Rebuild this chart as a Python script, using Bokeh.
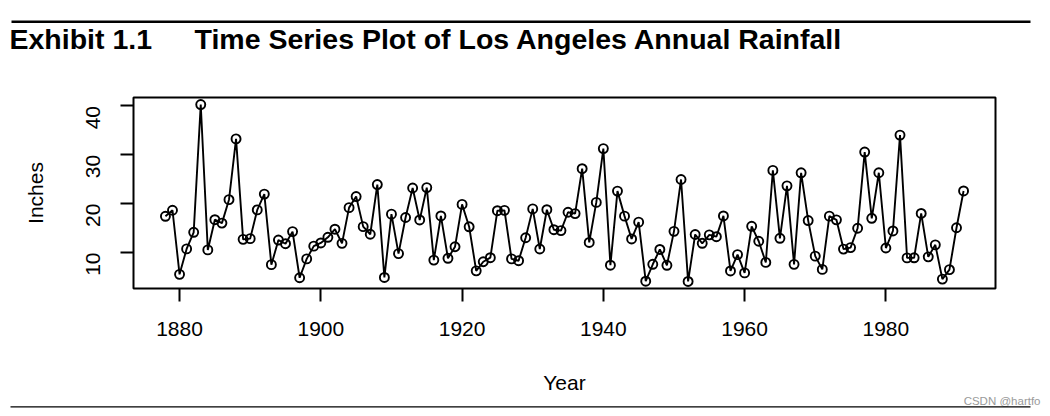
import math
from bokeh.plotting import figure
from bokeh.layouts import column
from bokeh.models import ColumnDataSource, Label, BoxAnnotation, Range1d, FixedTicker
from bokeh.embed import file_html
from bokeh.resources import INLINE

# ---- data (Los Angeles annual rainfall, inches) ----
years = list(range(1878, 1992))
rainfall = [17.41, 18.65, 5.53, 10.74, 14.14, 40.29, 10.53, 16.72, 16.02, 20.82, 33.26,
            12.69, 12.84, 18.72, 21.96, 7.51, 12.55, 11.80, 14.28, 4.83, 8.69, 11.30, 11.96,
            13.12, 14.77, 11.88, 19.19, 21.46, 15.30, 13.74, 23.92, 4.89, 17.85, 9.78, 17.17,
            23.21, 16.67, 23.29, 8.45, 17.49, 8.82, 11.18, 19.85, 15.27, 6.25, 8.11, 8.94,
            18.56, 18.63, 8.69, 8.32, 13.02, 18.93, 10.72, 18.76, 14.67, 14.49, 18.24, 17.97,
            27.16, 12.06, 20.26, 31.28, 7.40, 22.57, 17.45, 12.78, 16.22, 4.13, 7.59, 10.63,
            7.38, 14.33, 24.95, 4.08, 13.69, 11.89, 13.62, 13.24, 17.49, 6.23, 9.57, 5.83,
            15.37, 12.31, 7.98, 26.81, 12.91, 23.65, 7.58, 26.32, 16.54, 9.26, 6.54, 17.45,
            16.69, 10.70, 11.01, 14.97, 30.57, 17.00, 26.33, 10.92, 14.41, 34.04, 8.90, 8.92,
            18.00, 9.11, 11.57, 4.56, 6.49, 15.07, 22.60]
x_ticks = [1880, 1900, 1920, 1940, 1960, 1980]
y_ticks = [10, 20, 30, 40]
exhibit = "Exhibit 1.1"
title = "Time Series Plot of Los Angeles Annual Rainfall"
x_title = "Year"
y_title = "Inches"
watermark = "CSDN @hartfo"

FONT = "Liberation Sans"
W = 1050
H_HEAD, H_MAIN, H_FOOT = 60, 336, 20
BL, BR, BT, BB = 133, 55, 37, 107


def blank(h):
    f = figure(width=W, height=h, output_backend="svg", toolbar_location=None,
               x_range=Range1d(0, 1), y_range=Range1d(0, 1),
               x_axis_type=None, y_axis_type=None,
               min_border_left=0, min_border_right=0, min_border_top=0, min_border_bottom=0,
               background_fill_color="white", border_fill_color="white")
    f.outline_line_color = None
    f.grid.visible = False
    f.frame_align = False
    return f


def hrule(f, h, x0, x1, y0, y1):
    # y0/y1: pixels from top of this figure
    f.add_layout(BoxAnnotation(left=x0, right=x1, top=h - y0, bottom=h - y1,
                               left_units="screen", right_units="screen",
                               top_units="screen", bottom_units="screen",
                               fill_color="black", fill_alpha=1, line_color=None))


def text(f, h, x, baseline_from_top, s, size, **kw):
    # Label's alphabetic anchor lands ~0.32em above the drawn baseline; compensate
    y = h - (baseline_from_top - 0.32 * size)
    f.add_layout(Label(x=x, y=y, x_units="screen", y_units="screen", text=s,
                       text_font=FONT, text_font_size=f"{size}px",
                       text_baseline="alphabetic", **kw))


# ---- header: rule + title ----
head = blank(H_HEAD)
hrule(head, H_HEAD, 11, 1030, 20, 22.5)
text(head, H_HEAD, 9, 48, exhibit, 28.5, text_font_style="bold", text_color="black",
     text_align="left")
text(head, H_HEAD, 194, 48, title, 28.5, text_font_style="bold", text_color="black",
     text_align="left")


# ---- main plot ----
def pad(lo, hi):
    d = (hi - lo) * 0.04
    return lo - d, hi + d


xr = pad(min(years), max(years))
yr = pad(min(rainfall), max(rainfall))

p = figure(width=W, height=H_MAIN, output_backend="svg", toolbar_location=None,
           x_range=Range1d(*xr), y_range=Range1d(*yr),
           min_border_left=BL, min_border_right=BR, min_border_top=BT, min_border_bottom=BB,
           background_fill_color="white", border_fill_color="white")
p.frame_align = False
p.grid.visible = False
p.outline_line_color = "black"
p.outline_line_width = 2

for ax in (p.xaxis[0], p.yaxis[0]):
    ax.axis_line_color = None
    ax.major_tick_in = 0
    ax.major_tick_out = 13
    ax.major_tick_line_width = 2
    ax.major_tick_line_color = "black"
    ax.minor_tick_line_color = None
    ax.major_label_text_font = FONT
    ax.major_label_text_font_size = "21px"
    ax.major_label_text_color = "black"
    ax.axis_label_text_font = FONT
    ax.axis_label_text_font_size = "21px"
    ax.axis_label_text_font_style = "normal"
    ax.axis_label_text_color = "black"

p.xaxis.ticker = FixedTicker(ticks=x_ticks)
p.yaxis.ticker = FixedTicker(ticks=y_ticks)
p.xaxis.axis_label = x_title
p.yaxis.axis_label = y_title
p.xaxis.major_label_standoff = 20
p.xaxis.axis_label_standoff = 32
p.yaxis.major_label_standoff = 27
p.yaxis.major_label_orientation = math.pi / 2
p.yaxis.axis_label_standoff = 30

src = ColumnDataSource(dict(year=years, rain=rainfall))
p.line("year", "rain", source=src, line_color="black", line_width=1.9)
p.scatter("year", "rain", source=src, marker="circle", size=9,
          fill_color=None, line_color="black", line_width=1.9)

# ---- footer: rule + watermark ----
foot = blank(H_FOOT)
text(foot, H_FOOT, 1040, 8.5, watermark, 11.5, text_color="#9a9a9a", text_align="right")
hrule(foot, H_FOOT, 10, 1030, 9.8, 11)

layout = column(head, p, foot, spacing=0)
open("out.html", "w").write(file_html(layout, INLINE))
